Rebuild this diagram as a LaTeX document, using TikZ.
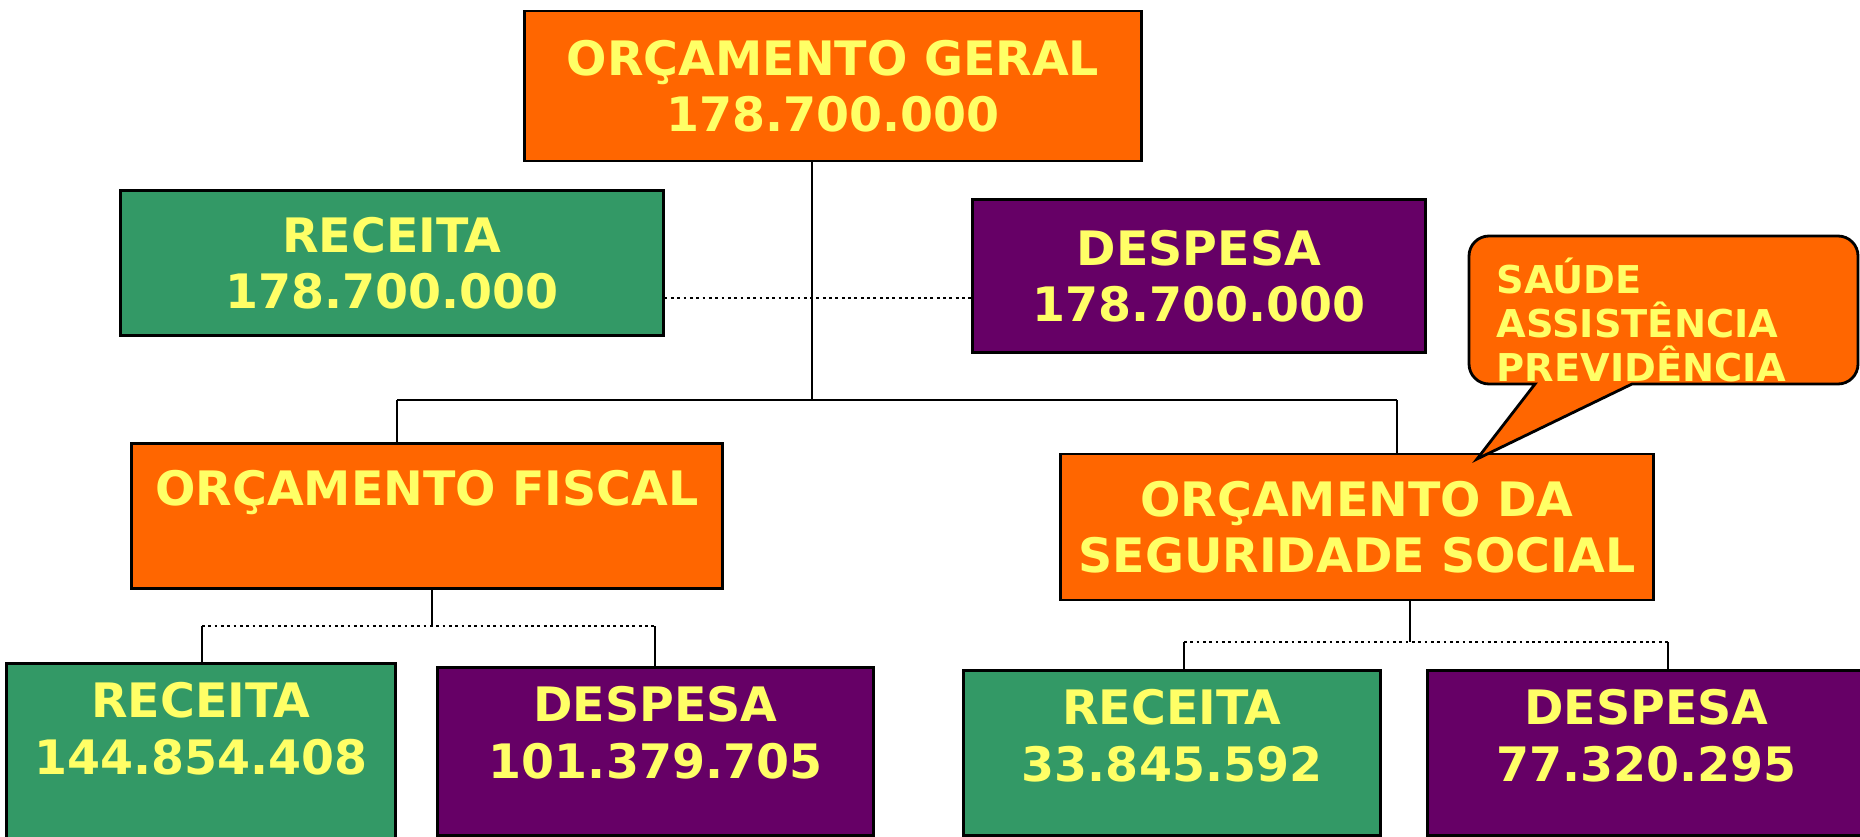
\documentclass[tikz,border=0pt]{standalone}
\usepackage{fontspec}
\setmainfont{DejaVu Sans}
\usetikzlibrary{positioning}
\definecolor{laranja}{HTML}{FF6600}
\definecolor{verde}{HTML}{339966}
\definecolor{roxo}{HTML}{660066}
\definecolor{amarelo}{HTML}{FFFF66}
\begin{document}
\begin{tikzpicture}[x=0.01cm,y=-0.01cm,
        caixa/.style={draw=black,line width=0.8pt,inner sep=0pt,text=amarelo,align=center,
            font=\fontsize{13.5}{16}\selectfont\bfseries},
        texto/.style={inner sep=0pt,text=amarelo,align=center,font=\fontsize{13.5}{16}\selectfont\bfseries},
        linha/.style={line width=0.5pt},
        pontos/.style={line width=0.8pt,densely dotted}]
    \useasboundingbox (0,0) rectangle (1860,836);
    \clip (0,0) rectangle (1860,836);
    % nivel 1
    \node[caixa,fill=laranja,minimum width=6.16cm,minimum height=1.50cm] (geral) at (833,86) {ORÇAMENTO GERAL\\178.700.000};
    \node[caixa,fill=verde,minimum width=5.42cm,minimum height=1.45cm] (receita) at (392,263) {RECEITA\\178.700.000};
    \node[caixa,fill=roxo,minimum width=4.53cm,minimum height=1.53cm] (despesa) at (1199,276) {DESPESA\\178.700.000};
    % nivel 2
    \node[caixa,fill=laranja,minimum width=5.91cm,minimum height=1.45cm] (fiscal) at (427,516) {ORÇAMENTO FISCAL\\~};
    \node[caixa,fill=laranja,minimum width=5.92cm,minimum height=1.46cm] (seguridade) at (1357,527) {ORÇAMENTO DA\\SEGURIDADE SOCIAL};
    % nivel 3
    \node[caixa,fill=verde,minimum width=3.89cm,minimum height=1.9cm,anchor=north west] (rec1) at (5,662) {};
    \node[caixa,fill=roxo,minimum width=4.36cm,minimum height=1.68cm,anchor=north west] (des1) at (436,666) {};
    \node[caixa,fill=verde,minimum width=4.17cm,minimum height=1.65cm,anchor=north west] (rec2) at (962,669) {};
    \node[caixa,fill=roxo,minimum width=4.38cm,minimum height=1.65cm,anchor=north west] (des2) at (1426,669) {};
    \node[texto,below=0.2cm of rec1.north] (rec1txt) {RECEITA\\144.854.408};
    \node[texto,below=0.2cm of des1.north] (des1txt) {DESPESA\\101.379.705};
    \node[texto,below=0.2cm of rec2.north] (rec2txt) {RECEITA\\33.845.592};
    \node[texto,below=0.2cm of des2.north] (des2txt) {DESPESA\\77.320.295};
    % ligacoes
    \coordinate (tronco) at (812,400);
    \coordinate (barraE) at (397,400);
    \coordinate (barraD) at (1397,400);
    \coordinate (liga) at (0,298);
    \draw[linha] (tronco |- geral.south) -- (tronco);
    \draw[linha] (barraE) -- (barraD);
    \draw[linha] (barraE) -- (barraE |- fiscal.north);
    \draw[linha] (barraD) -- (barraD |- seguridade.north);
    \draw[pontos] (receita.east |- liga) -- (despesa.west |- liga);
    \coordinate (galhoF) at (432,626);
    \coordinate (fE) at (202,626);
    \coordinate (fD) at (655,626);
    \draw[linha] (galhoF |- fiscal.south) -- (galhoF);
    \draw[pontos] (fE) -- (fD);
    \draw[linha] (fE) -- (fE |- rec1.north);
    \draw[linha] (fD) -- (fD |- des1.north);
    \coordinate (galhoS) at (1410,642);
    \coordinate (sE) at (1184,642);
    \coordinate (sD) at (1668,642);
    \draw[linha] (galhoS |- seguridade.south) -- (galhoS);
    \draw[pontos] (sE) -- (sD);
    \draw[linha] (sE) -- (sE |- rec2.north);
    \draw[linha] (sD) -- (sD |- des2.north);
    % balao
    \draw[line width=0.8pt,fill=laranja] (1632,384) [rounded corners=0.2cm] -- (1858,384) -- (1858,236)
        -- (1469,236) -- (1469,384) [sharp corners] -- (1535,384) -- (1477,459) -- cycle;
    \node[anchor=north west,inner sep=0pt,align=left,text=amarelo,font=\fontsize{10.9}{12.5}\selectfont\bfseries]
        (saude) at (1496,257) {SAÚDE\\ASSISTÊNCIA\\PREVIDÊNCIA};
\end{tikzpicture}
\end{document}
